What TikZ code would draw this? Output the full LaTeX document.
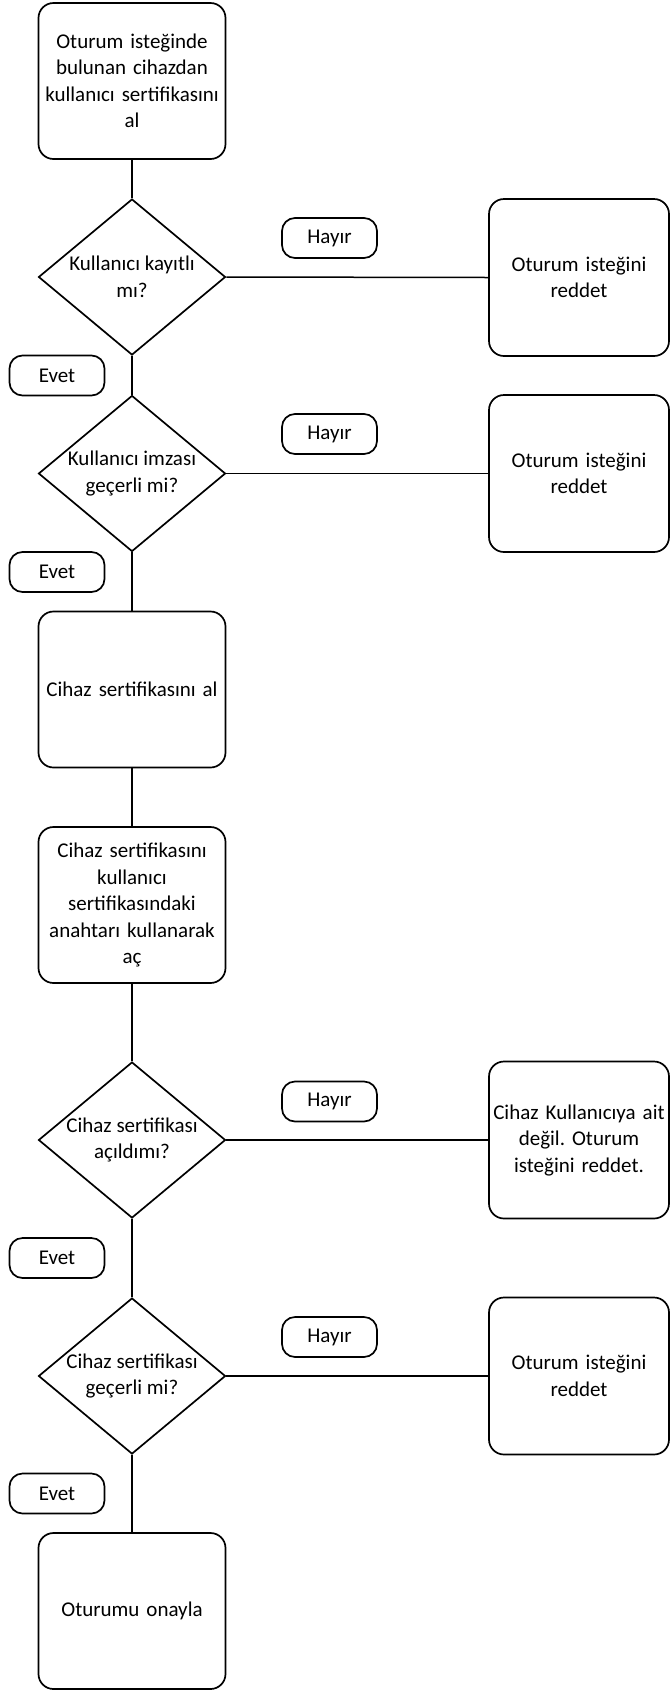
\documentclass[tikz,border=0pt]{standalone}
\usepackage{fontspec}
\setmainfont{Carlito}
\frenchspacing
\usetikzlibrary{shapes.geometric}
\begin{document}
\begin{tikzpicture}[x=1pt,y=-1pt,
  every node/.style={font=\fontsize{21}{26.5}\selectfont},
  stepbox/.style={draw, line width=1.7pt, rounded corners=15pt,
    minimum width=187pt, minimum height=156pt, inner sep=0pt,
    text width=185pt, align=center},
  decision/.style={draw, diamond, line width=1.7pt, inner sep=0pt,
    minimum width=187pt, minimum height=156pt},
  rejectbox/.style={draw, line width=1.7pt, rounded corners=15pt,
    minimum width=180pt, minimum height=157pt, inner sep=0pt,
    text width=180pt, align=center},
  tag/.style={draw, line width=1.7pt, rounded corners=13pt,
    minimum width=95pt, minimum height=40pt, inner sep=0pt},
  conn/.style={line width=1.5pt}]
\useasboundingbox (0,0) rectangle (670,1690);

% main column
\node[stepbox] (b1) at (132,81)
  {Oturum isteğinde\\bulunan cihazdan\\kullanıcı sertifikasını\\al};
\node[decision, label={[align=center]center:Kullanıcı kayıtlı\\mı?}] (d1) at (132,277) {};
\node[decision, label={[align=center]center:Kullanıcı imzası\\geçerli mi?}] (d2) at (132,473.5) {};
\node[stepbox] (b2) at (132,689.5) {Cihaz sertifikasını al};
\node[stepbox] (b3) at (132,905)
  {Cihaz sertifikasını\\kullanıcı\\sertifikasındaki\\anahtarı kullanarak\\aç};
\node[decision, label={[align=center]center:Cihaz sertifikası\\açıldımı?}] (d3) at (132,1140) {};
\node[decision, label={[align=center]center:Cihaz sertifikası\\geçerli mi?}] (d4) at (132,1376) {};
\node[stepbox] (b4) at (132,1611) {Oturumu onayla};

% rejection boxes
\node[rejectbox] (r1) at (579,277.5) {Oturum isteğini\\reddet};
\node[rejectbox] (r2) at (579,473.5) {Oturum isteğini\\reddet};
\node[rejectbox] (r3) at (579,1140) {Cihaz Kullanıcıya ait\\değil. Oturum\\isteğini reddet.};
\node[rejectbox] (r4) at (579,1376) {Oturum isteğini\\reddet};

% branch tags
\node[tag] (h1) at (329.5,238) {Hayır};
\node[tag] (h2) at (329.5,434) {Hayır};
\node[tag] (h3) at (329.5,1101.5) {Hayır};
\node[tag] (h4) at (329.5,1337) {Hayır};
\node[tag] (e1) at (57,375.5) {Evet};
\node[tag] (e2) at (57,572) {Evet};
\node[tag] (e3) at (57,1258) {Evet};
\node[tag] (e4) at (57,1493.5) {Evet};

% connectors
\draw[conn] (b1.south) -- (d1.north);
\draw[conn] (d1.south) -- (d2.north);
\draw[conn] (d2.south) -- (b2.north);
\draw[conn] (b2.south) -- (b3.north);
\draw[conn] (b3.south) -- (d3.north);
\draw[conn] (d3.south) -- (d4.north);
\draw[conn] (d4.south) -- (b4.north);
\draw[conn] (d1.east) -- (r1.west);
\draw[conn] (d2.east) -- (r2.west);
\draw[conn] (d3.east) -- (r3.west);
\draw[conn] (d4.east) -- (r4.west);
\end{tikzpicture}
\end{document}
